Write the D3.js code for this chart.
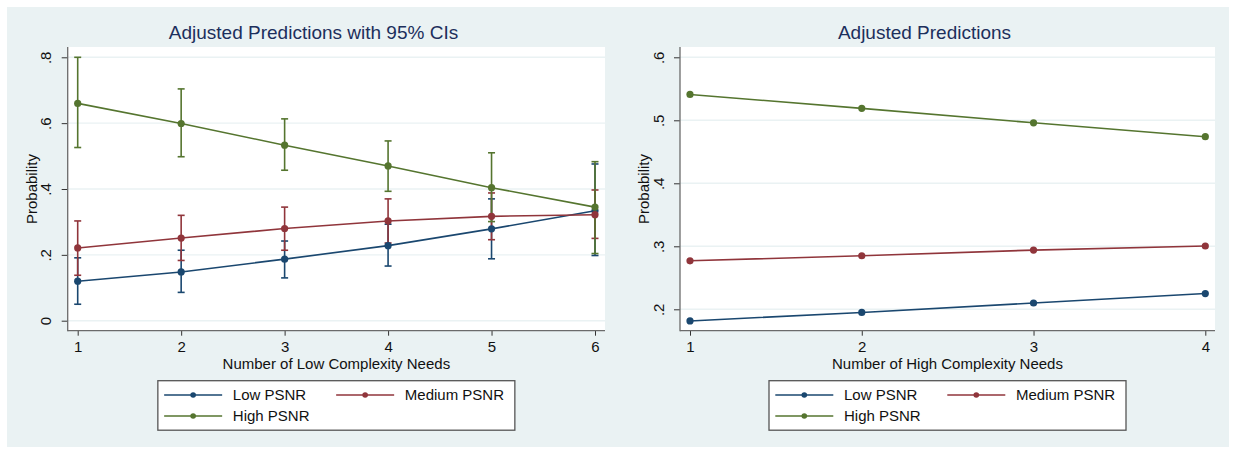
<!DOCTYPE html>
<html>
<head>
<meta charset="utf-8">
<script src="https://cdn.jsdelivr.net/npm/d3@7"></script>
<style>
  body { margin: 0; background: #fff; }
  text { font-family: "Liberation Sans", Arial, sans-serif; }
</style>
</head>
<body>
<div id="chart"></div>
<script>
// ---- data ----
var seriesNames = ["Low PSNR", "Medium PSNR", "High PSNR"];
var seriesColors = ["#1a476f", "#90353b", "#55752f"];

// left: low complexity needs, with 95% CIs
var leftX = [1, 2, 3, 4, 5, 6];
var leftLow    = [0.120, 0.148, 0.187, 0.228, 0.279, 0.334];
var leftLowLo  = [0.050, 0.086, 0.130, 0.166, 0.188, 0.198];
var leftLowHi  = [0.191, 0.214, 0.242, 0.293, 0.370, 0.476];
var leftMed    = [0.221, 0.251, 0.280, 0.303, 0.317, 0.322];
var leftMedLo  = [0.138, 0.183, 0.214, 0.236, 0.246, 0.250];
var leftMedHi  = [0.303, 0.320, 0.345, 0.370, 0.388, 0.397];
var leftHigh   = [0.660, 0.599, 0.533, 0.470, 0.404, 0.345];
var leftHighLo = [0.526, 0.498, 0.457, 0.393, 0.301, 0.204];
var leftHighHi = [0.800, 0.704, 0.613, 0.546, 0.510, 0.483];
var leftYTicks = [0, 0.2, 0.4, 0.6, 0.8];

// right: high complexity needs, no CIs
var rightX = [1, 2, 3, 4];
var rightLow  = [0.1815, 0.195, 0.210, 0.225];
var rightMed  = [0.277, 0.285, 0.294, 0.3005];
var rightHigh = [0.541, 0.519, 0.496, 0.474];
var rightYTicks = [0.2, 0.3, 0.4, 0.5, 0.6];

var W = 1233, H = 449;
var bg = "#eaf2f3";

var svg = d3.select("#chart").append("svg")
    .attr("width", W)
    .attr("height", H);

// stata style labels: 0, .2, .4 ...
var fmt = function(d) { return d === 0 ? "0" : d3.format(".1f")(d).replace(/^0/, ""); };

function drawPanel(p) {
  var g = svg.append("g");

  // panel background
  g.append("rect")
    .attr("x", p.left).attr("y", 7)
    .attr("width", p.right - p.left).attr("height", 440)
    .attr("fill", bg);

  // plot region
  g.append("rect")
    .attr("x", p.plotL).attr("y", 47)
    .attr("width", p.plotR - p.plotL).attr("height", 330.7 - 47)
    .attr("fill", "#fff");

  var x = d3.scaleLinear().domain(p.xDomain).range(p.xRange);
  var y = d3.scaleLinear().domain(p.yDomain).range(p.yRange);

  // gridlines
  g.selectAll(".grid")
    .data(p.yTicks)
    .enter()
    .append("line")
      .attr("x1", p.plotL).attr("x2", p.plotR)
      .attr("y1", function(d) { return y(d); })
      .attr("y2", function(d) { return y(d); })
      .attr("stroke", bg)
      .attr("stroke-width", 1.4);

  // y axis
  var ya = g.append("g")
    .attr("transform", "translate(" + p.plotL + ",0)")
    .call(d3.axisLeft(y).tickValues(p.yTicks).tickFormat(fmt).tickSize(6).tickSizeOuter(0));
  ya.select(".domain").remove();
  ya.selectAll(".tick line").attr("stroke", "#333");
  ya.selectAll(".tick text")
    .attr("x", 0).attr("y", 0).attr("dy", 0)
    .attr("transform", "translate(-16.5,0) rotate(-90)")
    .style("text-anchor", "middle")
    .style("font-size", "15px")
    .style("font-family", "Liberation Sans, Arial, sans-serif")
    .attr("fill", "#111");

  // x axis
  var xa = g.append("g")
    .attr("transform", "translate(0,330.7)")
    .call(d3.axisBottom(x).tickValues(p.xTicks).tickFormat(d3.format("d")).tickSize(5).tickSizeOuter(0));
  xa.select(".domain").remove();
  xa.selectAll(".tick line").attr("stroke", "#333");
  xa.selectAll(".tick text")
    .attr("y", 21.8).attr("dy", 0)
    .style("font-size", "15px")
    .style("font-family", "Liberation Sans, Arial, sans-serif")
    .attr("fill", "#111");

  // axis lines
  g.append("line")
    .attr("x1", p.plotL).attr("x2", p.plotL)
    .attr("y1", 47).attr("y2", 331.3)
    .attr("stroke", "#6b6b6b").attr("stroke-width", 1.3);
  g.append("line")
    .attr("x1", p.plotL).attr("x2", p.plotR)
    .attr("y1", 330.7).attr("y2", 330.7)
    .attr("stroke", "#6b6b6b").attr("stroke-width", 1.3);

  // titles
  g.append("text")
    .attr("x", (p.left + p.right) / 2).attr("y", 38.5)
    .style("text-anchor", "middle")
    .style("font-size", "19px")
    .attr("fill", "#1c2f5c")
    .text(p.title);

  g.append("text")
    .attr("x", (p.plotL + p.plotR) / 2).attr("y", 369)
    .style("text-anchor", "middle")
    .style("font-size", "15px")
    .attr("fill", "#111")
    .text(p.xTitle);

  g.append("text")
    .attr("transform", "translate(" + (p.plotL - 31) + ",189) rotate(-90)")
    .style("text-anchor", "middle")
    .style("font-size", "15px")
    .attr("fill", "#111")
    .text("Probability");

  // confidence intervals
  if (p.ci) {
    p.ci.forEach(function(c, i) {
      var col = seriesColors[i];
      var rows = p.xs.map(function(v, k) { return {x: v, lo: c[0][k], hi: c[1][k]}; });
      g.selectAll(".ci" + i).data(rows).enter().append("line")
        .attr("x1", function(d) { return x(d.x); })
        .attr("x2", function(d) { return x(d.x); })
        .attr("y1", function(d) { return y(d.lo); })
        .attr("y2", function(d) { return y(d.hi); })
        .attr("stroke", col).attr("stroke-width", 1.6);
      ["lo", "hi"].forEach(function(k) {
        g.selectAll(".cap" + i + k).data(rows).enter().append("line")
          .attr("x1", function(d) { return x(d.x) - 3.5; })
          .attr("x2", function(d) { return x(d.x) + 3.5; })
          .attr("y1", function(d) { return y(d[k]); })
          .attr("y2", function(d) { return y(d[k]); })
          .attr("stroke", col).attr("stroke-width", 1.6);
      });
    });
  }

  // lines and markers
  var line = d3.line()
    .x(function(d) { return x(d[0]); })
    .y(function(d) { return y(d[1]); });

  p.series.forEach(function(vals, i) {
    var col = seriesColors[i];
    var pts = p.xs.map(function(v, k) { return [v, vals[k]]; });
    g.append("path")
      .datum(pts)
      .attr("d", line)
      .attr("fill", "none")
      .attr("stroke", col)
      .attr("stroke-width", 1.6);
    g.selectAll(".pt" + i).data(pts).enter().append("circle")
      .attr("cx", function(d) { return x(d[0]); })
      .attr("cy", function(d) { return y(d[1]); })
      .attr("r", 3.6)
      .attr("fill", col);
  });

  // legend
  var lx = (p.plotL + p.plotR) / 2 - 178.5, ly = 380.7;
  g.append("rect")
    .attr("x", lx).attr("y", ly)
    .attr("width", 357).attr("height", 49.5)
    .attr("fill", "#fff")
    .attr("stroke", "#555").attr("stroke-width", 1.3);
  var slots = [[0, 14.3], [172, 14.3], [0, 35.3]];
  seriesNames.forEach(function(name, i) {
    var sx = lx + slots[i][0], sy = ly + slots[i][1];
    g.append("line")
      .attr("x1", sx + 6.3).attr("x2", sx + 64.3)
      .attr("y1", sy).attr("y2", sy)
      .attr("stroke", seriesColors[i]).attr("stroke-width", 1.6);
    g.append("circle")
      .attr("cx", sx + 35.3).attr("cy", sy).attr("r", 2.8)
      .attr("fill", seriesColors[i]);
    g.append("text")
      .attr("x", sx + 75).attr("y", sy + 5.3)
      .style("font-size", "15px")
      .attr("fill", "#111")
      .text(name);
  });
}

drawPanel({
  left: 7, right: 620, plotL: 67.7, plotR: 605,
  xDomain: [1, 6], xRange: [77.7, 595],
  yDomain: [0, 0.8], yRange: [320.7, 57.3],
  xTicks: leftX, yTicks: leftYTicks, xs: leftX,
  title: "Adjusted Predictions with 95% CIs",
  xTitle: "Number of Low Complexity Needs",
  series: [leftLow, leftMed, leftHigh],
  ci: [[leftLowLo, leftLowHi], [leftMedLo, leftMedHi], [leftHighLo, leftHighHi]]
});

drawPanel({
  left: 620, right: 1229, plotL: 680, plotR: 1215,
  xDomain: [1, 4], xRange: [690, 1205.3],
  yDomain: [0.2, 0.6], yRange: [309.3, 57.3],
  xTicks: rightX, yTicks: rightYTicks, xs: rightX,
  title: "Adjusted Predictions",
  xTitle: "Number of High Complexity Needs",
  series: [rightLow, rightMed, rightHigh],
  ci: null
});
</script>
</body>
</html>
